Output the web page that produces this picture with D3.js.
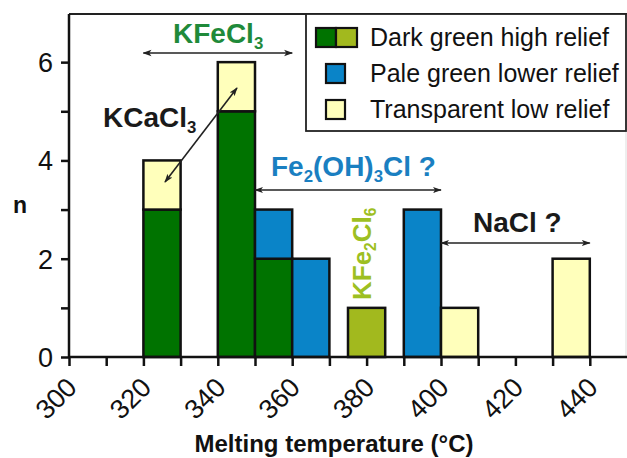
<!DOCTYPE html>
<html><head><meta charset="utf-8">
<script src="https://cdn.jsdelivr.net/npm/d3@7"></script>
<style>
html,body{margin:0;padding:0;background:#fff;}
svg{display:block;font-family:"Liberation Sans",Arial,sans-serif;}
</style></head>
<body><svg id="chart" width="627" height="458"></svg>
<script>
// ---- data ----
const binStarts   = [320, 340, 350, 360, 375, 390, 400, 430];
const binWidth    = 10;
const darkGreen   = [3, 5, 2, 0, 0, 0, 0, 0];
const oliveGreen  = [0, 0, 0, 0, 1, 0, 0, 0];
const paleBlue    = [0, 0, 1, 2, 0, 3, 0, 0];
const transparent = [1, 1, 0, 0, 0, 0, 1, 2];
const seriesKeys  = ["darkGreen", "oliveGreen", "paleBlue", "transparent"];
const xTickValues = [300,310,320,330,340,350,360,370,380,390,400,410,420,430,440];
const xTickLabels = [300,320,340,360,380,400,420,440];
const yTickValues = [0,1,2,3,4,5,6];
const yTickLabels = [0,2,4,6];
const legendLabels = ["Dark green high relief", "Pale green lower relief", "Transparent low relief"];

const colors = {darkGreen:"#007300", oliveGreen:"#a2b91e", paleBlue:"#0a84c8", transparent:"#ffffbb"};

const svg = d3.select("#chart");
const x = d3.scaleLinear().domain([300, 450]).range([69, 627]);
const y = d3.scaleLinear().domain([0, 7]).range([357, 13]);

const table = binStarts.map((b, i) => ({start: b, darkGreen: darkGreen[i], oliveGreen: oliveGreen[i], paleBlue: paleBlue[i], transparent: transparent[i]}));
const stacked = d3.stack().keys(seriesKeys)(table);

// frame (top + faint right)
svg.append("line").attr("x1", x(300)).attr("x2", 627).attr("y1", 14).attr("y2", 14).attr("stroke", "#222").attr("stroke-width", 2);
svg.append("line").attr("x1", 626).attr("x2", 626).attr("y1", 14).attr("y2", 357).attr("stroke", "#ddd").attr("stroke-width", 1);

// bars
stacked.forEach(s => {
  svg.append("g").selectAll("rect").data(s.filter(d => d[1] - d[0] > 0)).join("rect")
    .attr("x", d => x(d.data.start))
    .attr("width", d => x(d.data.start + binWidth) - x(d.data.start))
    .attr("y", d => y(d[1]))
    .attr("height", d => y(d[0]) - y(d[1]))
    .attr("fill", colors[s.key])
    .attr("stroke", "#111").attr("stroke-width", 2.5);
});

// axes
const xAxis = d3.axisBottom(x).tickValues(xTickValues).tickSize(9).tickSizeOuter(0)
  .tickFormat(d => xTickLabels.includes(d) ? d : "");
const gx = svg.append("g").attr("transform", `translate(0,${y(0)})`).call(xAxis);
gx.select(".domain").attr("stroke", "#111").attr("stroke-width", 2.5).attr("d", `M${x(300)},0H627`);
gx.selectAll(".tick line").attr("stroke", "#111").attr("stroke-width", 2.5);
gx.selectAll(".tick text").filter(d => !xTickLabels.includes(d)).remove();
gx.selectAll(".tick text").attr("font-size", 27).attr("fill", "#111")
  .attr("font-family", "Liberation Sans, Arial, sans-serif")
  .attr("text-anchor", "end").attr("dy", 0).attr("y", 0)
  .attr("transform", "translate(9,32) rotate(-45)");

const yAxis = d3.axisLeft(y).tickValues(yTickValues).tickSize(8).tickSizeOuter(0)
  .tickFormat(d => yTickLabels.includes(d) ? d : "");
const gy = svg.append("g").attr("transform", `translate(${x(300)},0)`).call(yAxis);
gy.select(".domain").attr("stroke", "#111").attr("stroke-width", 2.5).attr("d", `M0,${y(0)}V14`);
gy.selectAll(".tick line").attr("stroke", "#111").attr("stroke-width", 2.5);
gy.selectAll(".tick text").filter(d => !yTickLabels.includes(d)).remove();
gy.selectAll(".tick text").attr("font-size", 27).attr("fill", "#111")
  .attr("font-family", "Liberation Sans, Arial, sans-serif").attr("x", -16).attr("dy", "0.35em");

// axis titles
svg.append("text").attr("x", 334).attr("y", 452).attr("text-anchor", "middle")
  .attr("font-size", 24).attr("font-weight", "bold").attr("fill", "#111").text("Melting temperature (°C)");
svg.append("text").attr("x", 20).attr("y", 213).attr("text-anchor", "middle")
  .attr("font-size", 23).attr("font-weight", "bold").attr("fill", "#111").text("n");

// arrow markers
const defs = svg.append("defs");
defs.append("marker").attr("id", "ah").attr("viewBox", "0 0 10 10").attr("refX", 9).attr("refY", 5)
  .attr("markerWidth", 9).attr("markerHeight", 9).attr("markerUnits", "userSpaceOnUse").attr("orient", "auto-start-reverse")
  .append("path").attr("d", "M0,1.5L10,5L0,8.5L2.5,5Z").attr("fill", "#222");

function dArrow(x1, y1, x2, y2) {
  svg.append("line").attr("x1", x1).attr("y1", y1).attr("x2", x2).attr("y2", y2)
    .attr("stroke", "#222").attr("stroke-width", 1.6)
    .attr("marker-start", "url(#ah)").attr("marker-end", "url(#ah)");
}

function label(xp, yp, parts, color, size, rotate) {
  const t = svg.append("text").attr("font-weight", "bold").attr("font-size", size).attr("fill", color);
  if (rotate) t.attr("transform", `translate(${xp},${yp}) rotate(-90)`);
  else t.attr("x", xp).attr("y", yp);
  let shifted = false;
  parts.forEach(p => {
    const ts = t.append("tspan").text(p.t);
    if (p.sub) {
      ts.attr("font-size", size * 0.6).attr("dy", size * 0.2);
      shifted = true;
    } else if (shifted) {
      ts.attr("dy", -size * 0.2);
      shifted = false;
    }
  });
  return t;
}

// annotations
label(173, 43, [{t:"KFeCl"},{t:"3",sub:true}], "#1f8a3a", 28);
dArrow(x(320), 53, x(360), 53);

label(103, 127, [{t:"KCaCl"},{t:"3",sub:true}], "#1a1a1a", 28);
dArrow(165, 182, 237, 88);

label(271, 176, [{t:"Fe"},{t:"2",sub:true},{t:"(OH)"},{t:"3",sub:true},{t:"Cl ?"}], "#1a7fc1", 28);
dArrow(x(350), 190, x(400), 190);

label(371, 300, [{t:"KFe"},{t:"2",sub:true},{t:"Cl"},{t:"6",sub:true}], "#9dbf22", 26, true);

label(473, 232, [{t:"NaCl ?"}], "#1a1a1a", 28);
dArrow(x(400), 243, x(440), 243);

// legend
const lg = svg.append("g");
lg.append("rect").attr("x", 306).attr("y", 14).attr("width", 320).attr("height", 117)
  .attr("fill", "#fff").attr("stroke", "#222").attr("stroke-width", 1.8);
const sw = [
  [{x:316, w:20, c:colors.darkGreen}, {x:336, w:21, c:colors.oliveGreen}],
  [{x:326, w:19, c:colors.paleBlue}],
  [{x:326, w:19, c:colors.transparent}]
];
const rowTop = [28, 64, 100];
sw.forEach((row, i) => {
  row.forEach(s => lg.append("rect").attr("x", s.x).attr("y", rowTop[i]).attr("width", s.w).attr("height", 19)
    .attr("fill", s.c).attr("stroke", "#111").attr("stroke-width", 2.2));
  lg.append("text").attr("x", 370).attr("y", rowTop[i] + 18).attr("font-size", 25).attr("fill", "#111").text(legendLabels[i]);
});
</script></body></html>
